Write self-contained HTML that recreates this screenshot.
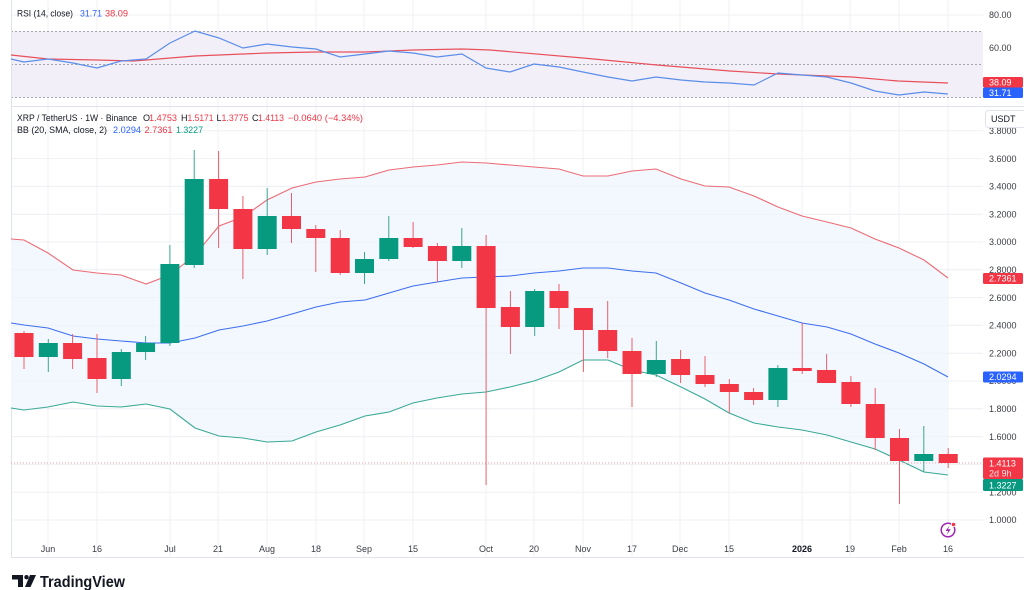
<!DOCTYPE html>
<html><head><meta charset="utf-8"><style>
html,body{margin:0;padding:0;background:#fff;}
svg{display:block;font-family:"Liberation Sans",sans-serif;}
</style></head><body>
<svg width="1024" height="590" viewBox="0 0 1024 590" xmlns="http://www.w3.org/2000/svg">
<rect width="1024" height="590" fill="#fff"/>

<!-- RSI pane band -->
<rect x="11" y="31.5" width="972" height="66" fill="#f2eff8"/>
<!-- grid verticals -->
<g stroke="#f0f1f4" stroke-width="1">
<line x1="48" y1="0" x2="48" y2="558"/><line x1="97" y1="0" x2="97" y2="558"/><line x1="170" y1="0" x2="170" y2="558"/>
<line x1="218" y1="0" x2="218" y2="558"/><line x1="267" y1="0" x2="267" y2="558"/><line x1="316" y1="0" x2="316" y2="558"/>
<line x1="364" y1="0" x2="364" y2="558"/><line x1="413" y1="0" x2="413" y2="558"/><line x1="486" y1="0" x2="486" y2="558"/>
<line x1="534" y1="0" x2="534" y2="558"/><line x1="583" y1="0" x2="583" y2="558"/><line x1="632" y1="0" x2="632" y2="558"/>
<line x1="680" y1="0" x2="680" y2="558"/><line x1="729" y1="0" x2="729" y2="558"/><line x1="802" y1="0" x2="802" y2="558"/>
<line x1="850" y1="0" x2="850" y2="558"/><line x1="899" y1="0" x2="899" y2="558"/><line x1="948" y1="0" x2="948" y2="558"/>
</g>
<!-- grid horizontals price -->
<g stroke="#f0f1f4" stroke-width="1">
<line x1="11" y1="15" x2="983" y2="15"/><line x1="11" y1="48" x2="983" y2="48"/>
<line x1="11" y1="130.8" x2="983" y2="130.8"/><line x1="11" y1="158.6" x2="983" y2="158.6"/><line x1="11" y1="186.4" x2="983" y2="186.4"/>
<line x1="11" y1="214.2" x2="983" y2="214.2"/><line x1="11" y1="242" x2="983" y2="242"/><line x1="11" y1="269.8" x2="983" y2="269.8"/>
<line x1="11" y1="297.6" x2="983" y2="297.6"/><line x1="11" y1="325.4" x2="983" y2="325.4"/><line x1="11" y1="353.2" x2="983" y2="353.2"/>
<line x1="11" y1="381" x2="983" y2="381"/><line x1="11" y1="408.8" x2="983" y2="408.8"/><line x1="11" y1="436.6" x2="983" y2="436.6"/>
<line x1="11" y1="464.4" x2="983" y2="464.4"/><line x1="11" y1="492.2" x2="983" y2="492.2"/><line x1="11" y1="520" x2="983" y2="520"/>
</g>
<!-- RSI dashed levels -->
<g stroke="#a3a6af" stroke-width="1" stroke-dasharray="2,2">
<line x1="11" y1="31.5" x2="983" y2="31.5"/><line x1="11" y1="64.5" x2="983" y2="64.5"/><line x1="11" y1="97.5" x2="983" y2="97.5"/>
</g>

<!-- frame -->
<g stroke="#e0e3eb" stroke-width="1">
<line x1="11.5" y1="0" x2="11.5" y2="558"/>
<line x1="11" y1="106.5" x2="1024" y2="106.5"/>
<line x1="11" y1="557.5" x2="1024" y2="557.5"/>
</g>

<!-- RSI lines -->
<polyline fill="none" stroke="#e8505b" stroke-width="1.2" points="11,55 48,59 97,60 133,61 146,60 195,56 267,53 316,52 365,52 413,50 462,49 490,50 583,58 657,65 730,71 778,74 852,77 898,81 948,83"/>
<polyline fill="none" stroke="#5b8ee9" stroke-width="1.2" points="11,59 24,62 48,59 73,63 97,68 121,61 146,59 170,43 195,31 219,38 243,48 267,44 292,47 316,49 340,57 365,54 389,51 413,53 437,57 462,54 486,68 510,72 534,64 559,67 583,72 608,77 632,81 656,77 681,80 705,82 729,83 754,85 778,73 802,75 827,77 851,83 875,91 899,95 924,92 948,94"/>

<!-- BB fill -->
<polygon fill="#f3f8fe" points="11,239 24,240 48,253 73,270 97,273 121,275 146,284 170,275 195,255 219,226 243,217 267,200 292,188 316,182 340,179 365,177 389,170 413,167 437,165 462,162 486,163 510,165 534,167 559,169 583,176 608,176 632,171 656,169 681,179 705,186 729,187 754,196 778,207 802,216 827,222 851,228 875,239 899,248 924,260 948,278 948,475 924,472 899,460 875,449 851,442 827,435 802,430 778,427 754,423 729,413 705,399 681,387 656,375 632,370 608,360 583,360 559,372 534,381 510,387 486,392 462,394 437,398 413,403 389,412 365,416 340,425 316,432 292,441 267,442 243,438 219,436 195,428 170,409 146,404 121,407 97,406 73,402 48,407 24,410 11,408"/>
<!-- redraw faint grid over fill -->
<g stroke="#eaf0f7" stroke-width="1" opacity="0.6">
<line x1="11" y1="186.4" x2="983" y2="186.4"/><line x1="11" y1="214.2" x2="983" y2="214.2"/><line x1="11" y1="242" x2="983" y2="242"/>
<line x1="11" y1="269.8" x2="983" y2="269.8"/><line x1="11" y1="297.6" x2="983" y2="297.6"/><line x1="11" y1="325.4" x2="983" y2="325.4"/>
<line x1="11" y1="353.2" x2="983" y2="353.2"/><line x1="11" y1="381" x2="983" y2="381"/><line x1="11" y1="408.8" x2="983" y2="408.8"/>
<line x1="11" y1="436.6" x2="983" y2="436.6"/>
</g>

<!-- BB lines -->
<polyline fill="none" stroke="#ec6b75" stroke-width="1.1" points="11,239 24,240 48,253 73,270 97,273 121,275 146,284 170,275 195,255 219,226 243,217 267,200 292,188 316,182 340,179 365,177 389,170 413,167 437,165 462,162 486,163 510,165 534,167 559,169 583,176 608,176 632,171 656,169 681,179 705,186 729,187 754,196 778,207 802,216 827,222 851,228 875,239 899,248 924,260 948,278"/>
<polyline fill="none" stroke="#3d6fee" stroke-width="1.1" points="11,323 24,325 48,328 73,336 97,339 121,341 146,343 170,343 195,338 219,330 243,326 267,321 292,314 316,307 340,302 365,300 389,293 413,286 437,282 462,278 486,277 510,276 534,273 559,271 583,268 608,268 632,271 656,273 681,283 705,293 729,300 754,309 778,316 802,323 827,327 851,334 875,344 899,353 924,364 948,377"/>
<polyline fill="none" stroke="#3aa995" stroke-width="1.1" points="11,408 24,410 48,407 73,402 97,406 121,407 146,404 170,409 195,428 219,436 243,438 267,442 292,441 316,432 340,425 365,416 389,412 413,403 437,398 462,394 486,392 510,387 534,381 559,372 583,360 608,360 632,370 656,375 681,387 705,399 729,413 754,423 778,427 802,430 827,435 851,442 875,449 899,460 924,472 948,475"/>

<!-- current price dotted line -->
<line x1="11" y1="463" x2="983" y2="463" stroke="#f0a0a6" stroke-width="1" stroke-dasharray="1,2"/>

<!-- candles red -->
<g stroke="#e8606b" stroke-width="1">
<line x1="24" y1="331" x2="24" y2="369"/><line x1="72.6" y1="334" x2="72.6" y2="369"/><line x1="97" y1="334" x2="97" y2="393"/>
<line x1="218.6" y1="151" x2="218.6" y2="248"/><line x1="242.9" y1="196" x2="242.9" y2="279"/><line x1="291.5" y1="193" x2="291.5" y2="243"/>
<line x1="315.8" y1="225" x2="315.8" y2="272"/><line x1="340.2" y1="230" x2="340.2" y2="275"/><line x1="413.1" y1="222" x2="413.1" y2="248"/>
<line x1="437.4" y1="243" x2="437.4" y2="282"/><line x1="486.1" y1="235" x2="486.1" y2="485"/><line x1="510.4" y1="291" x2="510.4" y2="354"/>
<line x1="559" y1="284" x2="559" y2="329"/><line x1="583.4" y1="308" x2="583.4" y2="372"/><line x1="607.7" y1="301" x2="607.7" y2="358"/>
<line x1="632" y1="338" x2="632" y2="407"/><line x1="680.6" y1="350" x2="680.6" y2="383"/><line x1="705" y1="356" x2="705" y2="387"/>
<line x1="729.3" y1="379" x2="729.3" y2="413"/><line x1="753.6" y1="388" x2="753.6" y2="405"/><line x1="802.2" y1="323" x2="802.2" y2="374"/>
<line x1="826.6" y1="354" x2="826.6" y2="383"/><line x1="850.9" y1="376" x2="850.9" y2="407"/><line x1="875.2" y1="388" x2="875.2" y2="450"/>
<line x1="899.5" y1="429" x2="899.5" y2="504"/><line x1="948.2" y1="448" x2="948.2" y2="468"/>
</g>
<g stroke="#3aa58f" stroke-width="1">
<line x1="48.3" y1="339" x2="48.3" y2="372"/><line x1="121.3" y1="349" x2="121.3" y2="386"/><line x1="145.6" y1="336" x2="145.6" y2="360"/>
<line x1="169.9" y1="245" x2="169.9" y2="346"/><line x1="194.2" y1="150" x2="194.2" y2="268"/><line x1="267.2" y1="188" x2="267.2" y2="255"/>
<line x1="364.5" y1="252" x2="364.5" y2="284"/><line x1="388.8" y1="216" x2="388.8" y2="261"/><line x1="461.8" y1="228" x2="461.8" y2="268"/>
<line x1="534.7" y1="289" x2="534.7" y2="336"/><line x1="656.3" y1="341" x2="656.3" y2="377"/><line x1="777.9" y1="365" x2="777.9" y2="407"/>
<line x1="923.8" y1="426" x2="923.8" y2="472"/>
</g>
<g fill="#f23645">
<rect x="14.5" y="333" width="19" height="24"/><rect x="63.1" y="343" width="19" height="16"/><rect x="87.5" y="358" width="19" height="21"/>
<rect x="209.1" y="179" width="19" height="30"/><rect x="233.4" y="209" width="19" height="40"/><rect x="282" y="216" width="19" height="13"/>
<rect x="306.3" y="229" width="19" height="9"/><rect x="330.7" y="238" width="19" height="35"/><rect x="403.6" y="238" width="19" height="9"/>
<rect x="427.9" y="246" width="19" height="15"/><rect x="476.6" y="246" width="19" height="62"/><rect x="500.9" y="307" width="19" height="20"/>
<rect x="549.5" y="291" width="19" height="17"/><rect x="573.9" y="308" width="19" height="22"/><rect x="598.2" y="330" width="19" height="21"/>
<rect x="622.5" y="351" width="19" height="23"/><rect x="671.1" y="359" width="19" height="16"/><rect x="695.5" y="375" width="19" height="9"/>
<rect x="719.8" y="384" width="19" height="8"/><rect x="744.1" y="392" width="19" height="8"/><rect x="792.7" y="368" width="19" height="3"/>
<rect x="817.1" y="370" width="19" height="13"/><rect x="841.4" y="382" width="19" height="22"/><rect x="865.7" y="404" width="19" height="34"/>
<rect x="890" y="438" width="19" height="23"/><rect x="938.7" y="454" width="19" height="9"/>
</g>
<g fill="#089981">
<rect x="38.8" y="343" width="19" height="14"/><rect x="111.8" y="352" width="19" height="27"/><rect x="136.1" y="343" width="19" height="9"/>
<rect x="160.4" y="264" width="19" height="79"/><rect x="184.7" y="179" width="19" height="86"/><rect x="257.7" y="216" width="19" height="33"/>
<rect x="355" y="259" width="19" height="14"/><rect x="379.3" y="238" width="19" height="21"/><rect x="452.3" y="246" width="19" height="15"/>
<rect x="525.2" y="291" width="19" height="36"/><rect x="646.8" y="360" width="19" height="14"/><rect x="768.4" y="368" width="19" height="32"/>
<rect x="914.3" y="454" width="19" height="7"/>
</g>

<!-- lightning icon -->
<circle cx="948" cy="530" r="6.8" fill="#fff" stroke="#9c27b0" stroke-width="1.5"/>
<path d="M949.5,525.5 L945.5,531 L948.3,531 L946.6,535 L950.8,529.3 L948,529.3 Z" fill="#9c27b0"/>
<circle cx="953.5" cy="524.5" r="2.2" fill="#f23645" stroke="#fff" stroke-width="0.8"/>

<!-- Legends -->
<g font-size="9" fill="#131722">
<text x="17" y="16.5" textLength="56" lengthAdjust="spacingAndGlyphs">RSI (14, close)</text>
<text x="80" y="16.5" fill="#2962ff" textLength="22" lengthAdjust="spacingAndGlyphs">31.71</text>
<text x="105" y="16.5" fill="#f23645" textLength="23" lengthAdjust="spacingAndGlyphs">38.09</text>

<text x="17" y="121" textLength="120" lengthAdjust="spacingAndGlyphs">XRP / TetherUS · 1W · Binance</text>
<text x="143" y="121">O</text><text x="149" y="121" fill="#f23645" textLength="28" lengthAdjust="spacingAndGlyphs">1.4753</text>
<text x="181" y="121">H</text><text x="187.5" y="121" fill="#f23645" textLength="26" lengthAdjust="spacingAndGlyphs">1.5171</text>
<text x="216.5" y="121">L</text><text x="221.5" y="121" fill="#f23645" textLength="27" lengthAdjust="spacingAndGlyphs">1.3775</text>
<text x="252" y="121">C</text><text x="258" y="121" fill="#f23645" textLength="26" lengthAdjust="spacingAndGlyphs">1.4113</text>
<text x="288" y="121" fill="#f23645" textLength="75" lengthAdjust="spacingAndGlyphs">−0.0640 (−4.34%)</text>

<text x="17" y="133" textLength="90" lengthAdjust="spacingAndGlyphs">BB (20, SMA, close, 2)</text>
<text x="113" y="133" fill="#2962ff" textLength="28" lengthAdjust="spacingAndGlyphs">2.0294</text>
<text x="144.5" y="133" fill="#f23645" textLength="28" lengthAdjust="spacingAndGlyphs">2.7361</text>
<text x="176" y="133" fill="#089981" textLength="27" lengthAdjust="spacingAndGlyphs">1.3227</text>
</g>

<!-- price axis labels -->
<g font-size="9" fill="#3a3d45">
<text x="989" y="18">80.00</text>
<text x="989" y="51">60.00</text>
<text x="989" y="134">3.8000</text>
<text x="989" y="161.8">3.6000</text>
<text x="989" y="189.6">3.4000</text>
<text x="989" y="217.4">3.2000</text>
<text x="989" y="245.2">3.0000</text>
<text x="989" y="273">2.8000</text>
<text x="989" y="300.8">2.6000</text>
<text x="989" y="328.6">2.4000</text>
<text x="989" y="356.4">2.2000</text>
<text x="989" y="384.2">2.0000</text>
<text x="989" y="412">1.8000</text>
<text x="989" y="439.8">1.6000</text>
<text x="989" y="467.6">1.4000</text>
<text x="989" y="495.4">1.2000</text>
<text x="989" y="523.2">1.0000</text>
</g>

<!-- USDT box -->
<rect x="985.5" y="110.5" width="42" height="17" rx="3" fill="#fff" stroke="#e0e3eb"/>
<text x="991" y="122" font-size="9" fill="#131722">USDT</text>

<!-- Tags -->
<rect x="983" y="77" width="40" height="10.5" rx="1.5" fill="#f23645"/>
<text x="989" y="85.3" font-size="9" fill="#fff">38.09</text>
<rect x="983" y="87.5" width="40" height="10.5" rx="1.5" fill="#2962ff"/>
<text x="989" y="95.8" font-size="9" fill="#fff">31.71</text>

<rect x="983" y="273" width="40" height="11" rx="1.5" fill="#f23645"/>
<text x="989" y="281.6" font-size="9" fill="#fff">2.7361</text>

<rect x="983" y="371.5" width="40" height="11" rx="1.5" fill="#2962ff"/>
<text x="989" y="380.2" font-size="9" fill="#fff">2.0294</text>

<rect x="983" y="457.5" width="40" height="21.5" rx="1.5" fill="#f23645"/>
<text x="989" y="466.5" font-size="9" fill="#fff">1.4113</text>
<text x="989" y="476.5" font-size="9" fill="#fde0e2">2d 9h</text>
<rect x="983" y="479" width="40" height="12" rx="1.5" fill="#089981"/>
<text x="989" y="488.3" font-size="9" fill="#fff">1.3227</text>

<!-- Time axis -->
<g font-size="9" fill="#3a3d45" text-anchor="middle">
<text x="48" y="552">Jun</text><text x="97" y="552">16</text><text x="170" y="552">Jul</text>
<text x="218" y="552">21</text><text x="267" y="552">Aug</text><text x="316" y="552">18</text>
<text x="364" y="552">Sep</text><text x="413" y="552">15</text><text x="486" y="552">Oct</text>
<text x="534" y="552">20</text><text x="583" y="552">Nov</text><text x="632" y="552">17</text>
<text x="680" y="552">Dec</text><text x="729" y="552">15</text><text x="802" y="552" font-weight="bold" fill="#131722">2026</text>
<text x="850" y="552">19</text><text x="899" y="552">Feb</text><text x="948" y="552">16</text>
</g>

<!-- TradingView logo -->
<g fill="#131722">
<path d="M12,575 H23 V587 H18 V579.5 H12 Z"/>
<circle cx="26.5" cy="577.2" r="2.2"/>
<path d="M30,575 H36 L30.5,587 H25 Z"/>
<text x="40" y="587" font-size="16" font-weight="bold" textLength="85" lengthAdjust="spacingAndGlyphs">TradingView</text>
</g>
</svg>
</body></html>
